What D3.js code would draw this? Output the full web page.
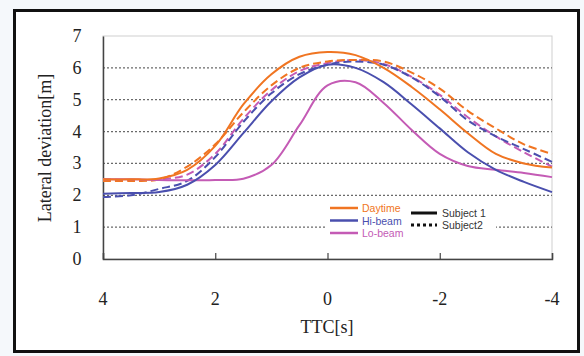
<!DOCTYPE html>
<html>
<head>
<meta charset="utf-8">
<script src="https://d3js.org/d3.v7.min.js"></script>
<style>
  body { margin: 0; background: #f5f8fb; }
  svg { display: block; }
  .tick-label { font-family: "Liberation Serif", serif; font-size: 18px; fill: #222; }
  .legend { font-family: "Liberation Sans", Arial, sans-serif; font-size: 10.5px; }
</style>
</head>
<body>
<svg id="chart" width="584" height="356"></svg>
<script>
// TTC sample points (seconds before crossing)
var ttc = [4, 3.5, 3, 2.5, 2, 1.5, 1, 0.5, 0, -0.5, -1, -1.5, -2, -2.5, -3, -3.5, -4];

// lateral deviation [m]
var daytime1 = [2.5, 2.5, 2.53, 2.8, 3.55, 4.85, 5.8, 6.35, 6.5, 6.4, 6.0, 5.4, 4.7, 3.95, 3.3, 3.0, 2.87];
var hibeam1  = [2.05, 2.07, 2.1, 2.33, 2.95, 3.95, 4.95, 5.7, 6.1, 6.0, 5.55, 4.85, 4.1, 3.35, 2.8, 2.42, 2.1];
var lobeam1  = [2.5, 2.5, 2.48, 2.47, 2.48, 2.52, 2.95, 4.2, 5.45, 5.55, 4.9, 4.05, 3.3, 2.92, 2.8, 2.7, 2.57];
var daytime2 = [2.45, 2.45, 2.5, 2.9, 3.6, 4.6, 5.45, 6.0, 6.2, 6.25, 6.2, 5.85, 5.35, 4.65, 4.1, 3.6, 3.3];
var hibeam2  = [1.95, 2.0, 2.2, 2.45, 3.2, 4.3, 5.2, 5.8, 6.1, 6.2, 6.1, 5.7, 5.1, 4.35, 3.85, 3.45, 3.05];
var lobeam2  = [2.5, 2.48, 2.5, 2.65, 3.3, 4.4, 5.3, 5.9, 6.15, 6.25, 6.12, 5.72, 5.15, 4.45, 3.85, 3.35, 2.9];

var xTicks = [4, 2, 0, -2, -4];
var yTicks = [0, 1, 2, 3, 4, 5, 6, 7];

var series = [
  { name: "Daytime", values: daytime1, color: "#f07522", dash: null },
  { name: "Hi-beam", values: hibeam1, color: "#4a4fae", dash: null },
  { name: "Lo-beam", values: lobeam1, color: "#c45bb5", dash: null },
  { name: "Daytime", values: daytime2, color: "#f07522", dash: "8,4" },
  { name: "Hi-beam", values: hibeam2, color: "#4a4fae", dash: "8,4" },
  { name: "Lo-beam", values: lobeam2, color: "#c45bb5", dash: "8,4" }
];

var svg = d3.select("#chart");

// outer frame
svg.append("rect")
  .attr("x", 14.5).attr("y", 10.5)
  .attr("width", 564).attr("height", 341)
  .attr("fill", "#fff")
  .attr("stroke", "#111").attr("stroke-width", 3);

var plotL = 103, plotR = 552, plotT = 36, plotB = 259;

var x = d3.scaleLinear().domain([4, -4]).range([plotL, plotR]);
var y = d3.scaleLinear().domain([0, 7]).range([plotB, plotT]);

// plot box (light top/right)
svg.append("rect")
  .attr("x", plotL).attr("y", plotT)
  .attr("width", plotR - plotL).attr("height", plotB - plotT)
  .attr("fill", "#fff").attr("stroke", "#cfcfcf").attr("stroke-width", 1);

// dotted gridlines
svg.append("g")
  .selectAll("line")
  .data(yTicks.filter(function(d) { return d > 0 && d < 7; }))
  .enter().append("line")
  .attr("x1", plotL).attr("x2", plotR)
  .attr("y1", function(d) { return y(d); })
  .attr("y2", function(d) { return y(d); })
  .attr("stroke", "#6a6a6a")
  .attr("stroke-width", 1.3)
  .attr("stroke-dasharray", "2,2");

// axes
var xAxis = svg.append("g")
  .attr("transform", "translate(0," + plotB + ")")
  .call(d3.axisBottom(x).tickValues(xTicks).tickSize(-6).tickFormat(""));
xAxis.select(".domain").attr("stroke", "#444").attr("stroke-width", 1.5);
xAxis.selectAll(".tick line").attr("stroke", "#444").attr("stroke-width", 1.2);

var yAxis = svg.append("g")
  .attr("transform", "translate(" + plotL + ",0)")
  .call(d3.axisLeft(y).tickValues(yTicks).tickSize(0).tickFormat(""));
yAxis.select(".domain").attr("stroke", "#444").attr("stroke-width", 1.5);

// tick labels
svg.append("g").selectAll("text")
  .data(xTicks).enter().append("text")
  .attr("class", "tick-label")
  .attr("x", function(d) { return x(d); })
  .attr("y", 305)
  .attr("text-anchor", "middle")
  .text(function(d) { return d; });

svg.append("g").selectAll("text")
  .data(yTicks).enter().append("text")
  .attr("class", "tick-label")
  .attr("x", 77)
  .attr("y", function(d) { return y(d) + 6; })
  .attr("text-anchor", "middle")
  .text(function(d) { return d; });

// axis titles
svg.append("text")
  .attr("class", "tick-label")
  .attr("x", 327).attr("y", 333)
  .attr("text-anchor", "middle")
  .text("TTC[s]");

svg.append("text")
  .attr("class", "tick-label")
  .attr("transform", "translate(51,148) rotate(-90)")
  .attr("text-anchor", "middle")
  .text("Lateral deviation[m]");

// curves
var line = d3.line()
  .x(function(d) { return x(d[0]); })
  .y(function(d) { return y(d[1]); })
  .curve(d3.curveCatmullRom.alpha(0.5));

svg.append("g").selectAll("path")
  .data(series.slice().reverse()).enter().append("path")
  .attr("d", function(s) { return line(ttc.map(function(t, i) { return [t, s.values[i]]; })); })
  .attr("fill", "none")
  .attr("stroke", function(s) { return s.color; })
  .attr("stroke-width", 2)
  .attr("stroke-dasharray", function(s) { return s.dash; });

// legend
var lg = svg.append("g").attr("class", "legend");
lg.append("rect")
  .attr("x", 326).attr("y", 201).attr("width", 170).attr("height", 38)
  .attr("fill", "#fff");

series.slice(0, 3).forEach(function(s, i) {
  var ly = 208 + i * 12.5;
  lg.append("line")
    .attr("x1", 330).attr("x2", 358).attr("y1", ly).attr("y2", ly)
    .attr("stroke", s.color).attr("stroke-width", 2.5);
  lg.append("text")
    .attr("x", 362).attr("y", ly + 4)
    .attr("fill", s.color)
    .text(s.name);
});

var subjects = [{ label: "Subject 1", dash: null }, { label: "Subject2", dash: "3,3" }];
subjects.forEach(function(s, i) {
  var ly = 213 + i * 12;
  lg.append("line")
    .attr("x1", 411).attr("x2", 437).attr("y1", ly).attr("y2", ly)
    .attr("stroke", "#111").attr("stroke-width", 3)
    .attr("stroke-dasharray", s.dash);
  lg.append("text")
    .attr("x", 442).attr("y", ly + 4)
    .attr("fill", "#333")
    .text(s.label);
});
</script>
</body>
</html>
